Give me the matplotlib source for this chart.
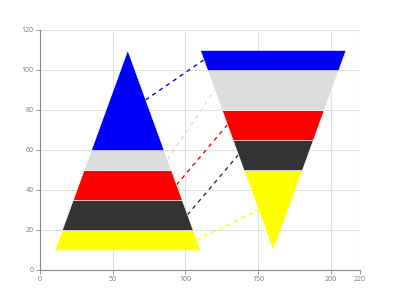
import matplotlib
matplotlib.use("Agg")
import matplotlib.pyplot as plt
import numpy as np

# Band colours (bottom to top for left pyramid)
colors = ["#ffff00", "#333333", "#ff0000", "#dddddd", "#0000ff"]

# Left pyramid: band boundaries, apex at top
left_bounds = [10, 20, 35, 50, 60, 110]
left_center = 60
# Right (inverted) pyramid: band boundaries, same colour order top-down reversed
right_bounds = [10, 50, 65, 80, 100, 110]
right_center = 160
base_half = 50
base_y = 10
top_y = 110

xticks = [0, 50, 100, 150, 200, 220]
yticks = [0, 20, 40, 60, 80, 100, 120]

plt.rcParams['font.family'] = ['Open Sans', 'DejaVu Sans']

fig = plt.figure(figsize=(4, 3), dpi=100)
ax = fig.add_axes([0.1, 0.1, 0.8, 0.8])

def left_hw(y):
    return base_half * (top_y - y) / (top_y - base_y)

def right_hw(y):
    return base_half * (y - base_y) / (top_y - base_y)

for i, c in enumerate(colors):
    y = np.array([left_bounds[i], left_bounds[i + 1]])
    ax.fill_betweenx(y, left_center - left_hw(y), left_center + left_hw(y),
                     color=c, ec="white", lw=0.4, zorder=3)
    # right pyramid bands go the other way: yellow at bottom apex, blue at top
    y = np.array([right_bounds[i], right_bounds[i + 1]])
    ax.fill_betweenx(y, right_center - right_hw(y), right_center + right_hw(y),
                     color=c, ec="white", lw=0.4, zorder=3)

# dashed connectors between band midpoints
for i, c in enumerate(colors):
    ly = (left_bounds[i] + left_bounds[i + 1]) / 2
    ry = (right_bounds[i] + right_bounds[i + 1]) / 2
    lx = left_center + left_hw(ly)
    rx = right_center - right_hw(ry)
    ax.plot([lx, rx], [ly, ry], color=c, lw=1, dashes=(3, 3), zorder=2)

ax.set_xlim(0, 220)
ax.set_ylim(0, 120)
ax.set_xticks(xticks)
ax.set_yticks(yticks)
ax.grid(True, color="#e0e0e0", lw=0.8, zorder=0)
ax.set_axisbelow(True)
for s in ["top", "right"]:
    ax.spines[s].set_visible(False)
for s in ["left", "bottom"]:
    ax.spines[s].set_color("#888888")
    ax.spines[s].set_linewidth(0.8)
ax.tick_params(labelsize=5, colors="#888888", length=3, width=0.6, labelcolor="#777777", pad=1.5)

fig.savefig("out.png", dpi=100)
